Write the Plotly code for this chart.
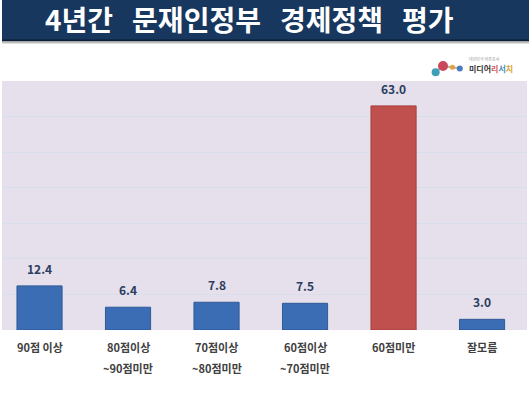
import plotly.graph_objects as go

categories = ["90점 이상", "80점이상<br>~90점미만", "70점이상<br>~80점미만", "60점이상<br>~70점미만", "60점미만", "잘모름"]
values = [12.4, 6.4, 7.8, 7.5, 63.0, 3.0]
bar_colors = ["#3A6DB4", "#3A6DB4", "#3A6DB4", "#3A6DB4", "#C0504D", "#3A6DB4"]
line_colors = ["#2F5A96", "#2F5A96", "#2F5A96", "#2F5A96", "#A5403D", "#2F5A96"]
title_text = "4년간 문재인정부 경제정책 평가"

FONT = "Noto Sans CJK KR"
x_idx = list(range(len(categories)))

fig = go.Figure()
fig.add_trace(go.Bar(
    x=x_idx, y=values, width=0.51,
    marker=dict(color=bar_colors, line=dict(color=line_colors, width=1)),
    hoverinfo="skip",
))

for xi, v in zip(x_idx, values):
    fig.add_annotation(x=xi, y=v, xref="x", yref="y", text=f"<b>{v:.1f}</b>",
                       showarrow=False, yanchor="bottom", yshift=7,
                       font=dict(family=FONT, size=12, color="#2B3D5E"))

# category labels, one annotation per line
for xi, c in zip(x_idx, categories):
    for li, part in enumerate(c.split("<br>")):
        fig.add_annotation(x=xi, y=0, xref="x", yref="paper", text="<b>" + part + "</b>",
                           showarrow=False, yanchor="middle", yshift=-17 - 21 * li,
                           font=dict(family=FONT, size=11, color="#404040"))

# title banner
fig.add_shape(type="rect", xref="paper", yref="paper", x0=0, x1=1.01, y0=1.165, y1=1.33,
              fillcolor="#17375E", line=dict(width=0), layer="above")
fig.add_shape(type="line", xref="paper", yref="paper", x0=0, x1=1.01, y0=1.163, y1=1.163,
              line=dict(color="#0E1F35", width=2))
fig.add_shape(type="line", xref="paper", yref="paper", x0=0, x1=1.01, y0=1.155, y1=1.155,
              line=dict(color="#BFBFBF", width=2))
fig.add_annotation(xref="paper", yref="paper", x=0.078, y=1.247,
                   text="<b>" + title_text.replace(" ", "\u00a0\u00a0\u00a0") + "</b>",
                   showarrow=False, xanchor="left", yanchor="middle",
                   font=dict(family=FONT, size=28, color="white"))

# logo approximation
fig.add_shape(type="line", xref="paper", yref="paper", x0=0.826, y0=1.035, x1=0.84, y1=1.06,
              line=dict(color="#B0B0B0", width=2))
fig.add_shape(type="line", xref="paper", yref="paper", x0=0.84, y0=1.06, x1=0.872, y1=1.05,
              line=dict(color="#B0B0B0", width=2))
logo_dots = [(0.826, 1.035, 4, "#3F9FB8"), (0.84, 1.06, 5, "#C9485B"), (0.858, 1.055, 2.5, "#E2A13A"), (0.872, 1.05, 3, "#4C7CC0")]
for lx, ly, r, c in logo_dots:
    fig.add_shape(type="circle", xref="paper", yref="paper",
                  x0=lx - r / 525, x1=lx + r / 525, y0=ly - r / 249, y1=ly + r / 249,
                  fillcolor=c, line=dict(width=0))
fig.add_annotation(xref="paper", yref="paper", x=0.885, y=1.05,
                   text="<b>미디어</b><b><span style='color:#D9534F'>리</span><span style='color:#3E8FC0'>서</span><span style='color:#E2A13A'>치</span></b>",
                   showarrow=False, xanchor="left", yanchor="middle",
                   font=dict(family=FONT, size=8, color="#333333"))
fig.add_annotation(xref="paper", yref="paper", x=0.885, y=1.088, text="대한민국 여론조사",
                   showarrow=False, xanchor="left", yanchor="middle",
                   font=dict(family=FONT, size=4, color="#999999"))

fig.update_layout(
    width=529, height=399,
    margin=dict(l=2, r=2, t=81, b=69, autoexpand=False),
    paper_bgcolor="white",
    plot_bgcolor="#E5E0EC",
    showlegend=False,
    xaxis=dict(
        tickmode="array", tickvals=x_idx, showticklabels=False, automargin=False,
        range=[-0.424, 5.508], showgrid=False, zeroline=False, showline=False,
        ticks="", fixedrange=True,
    ),
    yaxis=dict(
        range=[0, 70], dtick=10, showgrid=True, gridcolor="#D8DEEC", gridwidth=1, automargin=False,
        showticklabels=False, zeroline=False, showline=False, ticks="", fixedrange=True,
    ),
)

fig.write_html("out.html", config={"displayModeBar": False},
               post_script="document.body.style.margin='0';document.body.style.overflow='hidden';")
